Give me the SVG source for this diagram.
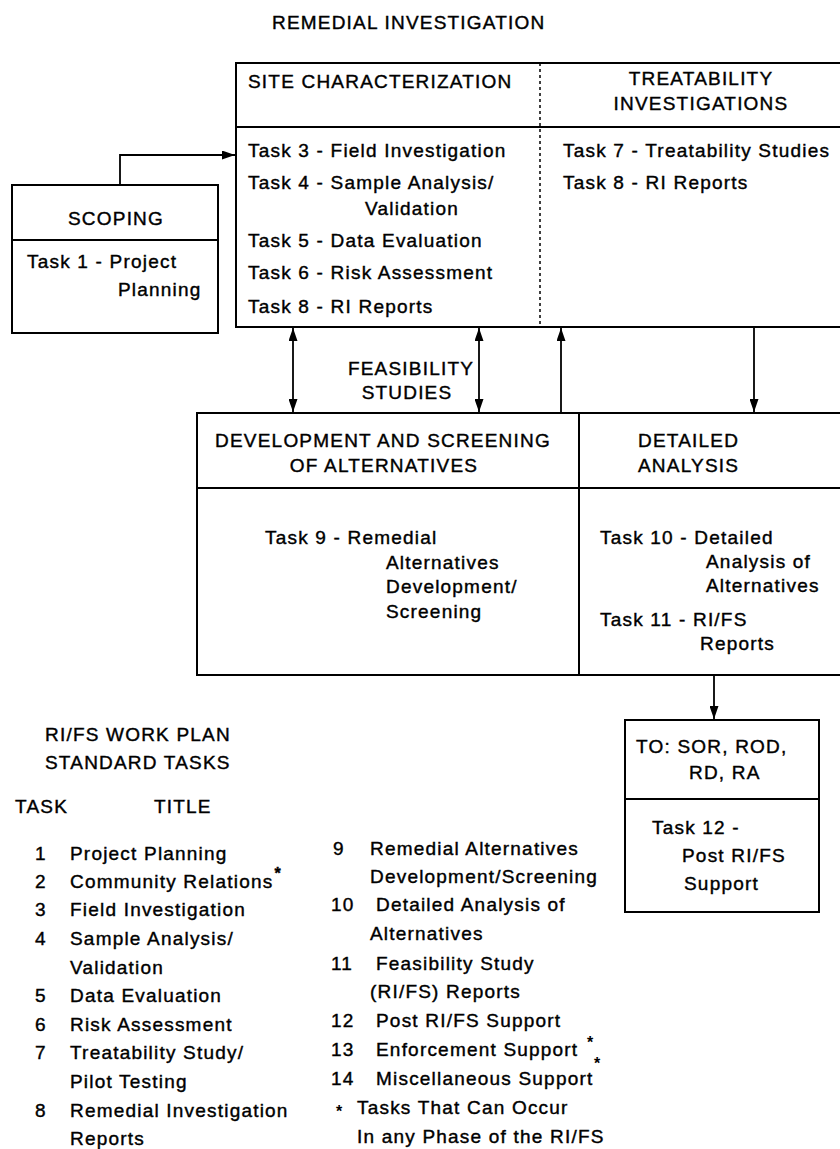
<svg xmlns="http://www.w3.org/2000/svg" width="840" height="1149" viewBox="0 0 840 1149">
<defs>
<style>
.t{font-family:"Liberation Sans",Arial,Helvetica,sans-serif;font-size:19px;letter-spacing:1.2px;fill:#000;stroke:#000;stroke-width:0.4}
.c{text-anchor:middle}
.box{fill:none;stroke:#000;stroke-width:2}
.ln{fill:none;stroke:#000;stroke-width:1.8}
.dot{fill:none;stroke:#000;stroke-width:1.5;stroke-dasharray:3 3}
.ast{font-family:"Liberation Sans",Arial,sans-serif;font-size:16px;font-weight:bold;fill:#000}
</style>
<marker id="ah" viewBox="0 0 13 9" refX="13" refY="4.5" markerWidth="13" markerHeight="9" markerUnits="userSpaceOnUse" orient="auto-start-reverse">
<path d="M0,0 L13,4.5 L0,9 z" fill="#000"/>
</marker>
</defs>
<rect x="0" y="0" width="840" height="1149" fill="#fff"/>

<g id="title">
<text class="t" x="272" y="29">REMEDIAL INVESTIGATION</text>
</g>

<g id="site-characterization">
<path class="box" d="M850,63 H236 V327 H850"/>
<path class="box" d="M236,127 H850"/>
<text class="t" x="248" y="88">SITE CHARACTERIZATION</text>
<text class="t" x="248" y="157">Task 3 - Field Investigation</text>
<text class="t" x="248" y="189">Task 4 - Sample Analysis/</text>
<text class="t" x="365" y="215">Validation</text>
<text class="t" x="248" y="247">Task 5 - Data Evaluation</text>
<text class="t" x="248" y="279">Task 6 - Risk Assessment</text>
<text class="t" x="248" y="313">Task 8 - RI Reports</text>
</g>

<g id="treatability-investigations">
<path class="dot" d="M540,63 V327"/>
<text class="t c" x="701" y="85">TREATABILITY</text>
<text class="t c" x="701" y="110">INVESTIGATIONS</text>
<text class="t" x="563" y="157">Task 7 - Treatability Studies</text>
<text class="t" x="563" y="189">Task 8 - RI Reports</text>
</g>

<g id="scoping">
<rect class="box" x="12" y="185" width="206" height="148"/>
<path class="box" d="M12,240 H218"/>
<text class="t c" x="116" y="225">SCOPING</text>
<text class="t" x="27" y="268">Task 1 - Project</text>
<text class="t" x="118" y="296">Planning</text>
</g>

<g id="feasibility-studies">
<text class="t c" x="411" y="375">FEASIBILITY</text>
<text class="t c" x="407" y="399">STUDIES</text>
</g>

<g id="development-screening">
<path class="box" d="M850,413 H197 V675 H850"/>
<path class="box" d="M197,488 H850"/>
<text class="t c" x="383" y="447">DEVELOPMENT AND SCREENING</text>
<text class="t c" x="384" y="472">OF ALTERNATIVES</text>
<text class="t" x="265" y="544">Task 9 - Remedial</text>
<text class="t" x="386" y="569">Alternatives</text>
<text class="t" x="386" y="593">Development/</text>
<text class="t" x="386" y="618">Screening</text>
</g>

<g id="detailed-analysis">
<path class="box" d="M579,413 V675"/>
<text class="t" x="638" y="447">DETAILED</text>
<text class="t" x="638" y="472">ANALYSIS</text>
<text class="t" x="600" y="544">Task 10 - Detailed</text>
<text class="t" x="706" y="568">Analysis of</text>
<text class="t" x="706" y="592">Alternatives</text>
<text class="t" x="600" y="626">Task 11 - RI/FS</text>
<text class="t" x="700" y="650">Reports</text>
</g>

<g id="post-rifs">
<rect class="box" x="625" y="720" width="194" height="192"/>
<path class="box" d="M625,799 H819"/>
<text class="t" x="636" y="753">TO: SOR, ROD,</text>
<text class="t" x="689" y="779">RD, RA</text>
<text class="t" x="652" y="834">Task 12 -</text>
<text class="t" x="682" y="862">Post RI/FS</text>
<text class="t" x="684" y="890">Support</text>
</g>

<g id="connectors">
<path class="ln" d="M120,185 V155 H235" marker-end="url(#ah)"/>
<path class="ln" d="M293,328 V412" marker-start="url(#ah)" marker-end="url(#ah)"/>
<path class="ln" d="M479,328 V412" marker-start="url(#ah)" marker-end="url(#ah)"/>
<path class="ln" d="M561,413 V328" marker-end="url(#ah)"/>
<path class="ln" d="M754,327 V412" marker-end="url(#ah)"/>
<path class="ln" d="M714,675 V719" marker-end="url(#ah)"/>
</g>

<g id="standard-tasks">
<text class="t" x="45" y="741">RI/FS WORK PLAN</text>
<text class="t" x="45" y="769">STANDARD TASKS</text>
<text class="t" x="15" y="813">TASK</text>
<text class="t" x="154" y="813">TITLE</text>

<text class="t" x="35" y="860">1</text><text class="t" x="70" y="860">Project Planning</text>
<text class="t" x="35" y="888">2</text><text class="t" x="70" y="888">Community Relations<tspan class="ast" dx="1" dy="-9">*</tspan></text>
<text class="t" x="35" y="916">3</text><text class="t" x="70" y="916">Field Investigation</text>
<text class="t" x="35" y="945">4</text><text class="t" x="70" y="945">Sample Analysis/</text>
<text class="t" x="70" y="974">Validation</text>
<text class="t" x="35" y="1002">5</text><text class="t" x="70" y="1002">Data Evaluation</text>
<text class="t" x="35" y="1031">6</text><text class="t" x="70" y="1031">Risk Assessment</text>
<text class="t" x="35" y="1059">7</text><text class="t" x="70" y="1059">Treatability Study/</text>
<text class="t" x="70" y="1088">Pilot Testing</text>
<text class="t" x="35" y="1117">8</text><text class="t" x="70" y="1117">Remedial Investigation</text>
<text class="t" x="70" y="1145">Reports</text>

<text class="t" x="333" y="855">9</text><text class="t" x="370" y="855">Remedial Alternatives</text>
<text class="t" x="370" y="883">Development/Screening</text>
<text class="t" x="331" y="911">10</text><text class="t" x="376" y="911">Detailed Analysis of</text>
<text class="t" x="370" y="940">Alternatives</text>
<text class="t" x="331" y="970">11</text><text class="t" x="376" y="970">Feasibility Study</text>
<text class="t" x="370" y="998">(RI/FS) Reports</text>
<text class="t" x="331" y="1027">12</text><text class="t" x="376" y="1027">Post RI/FS Support</text>
<text class="t" x="331" y="1056">13</text><text class="t" x="376" y="1056">Enforcement Support</text>
<text class="ast" x="587" y="1048">*</text>
<text class="ast" x="594" y="1069">*</text>
<text class="t" x="331" y="1085">14</text><text class="t" x="376" y="1085">Miscellaneous Support</text>
<text class="ast" x="336" y="1117">*</text><text class="t" x="357" y="1114">Tasks That Can Occur</text>
<text class="t" x="357" y="1143">In any Phase of the RI/FS</text>
</g>
</svg>
